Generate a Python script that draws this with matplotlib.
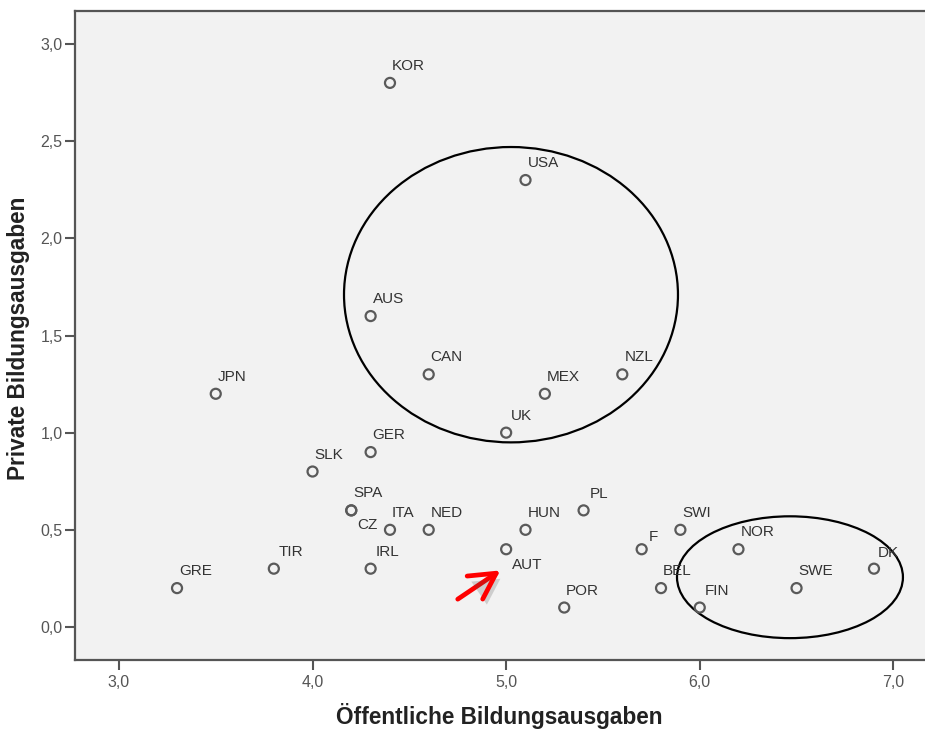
import matplotlib
matplotlib.use("Agg")
import matplotlib.pyplot as plt
from matplotlib.patches import Ellipse
import matplotlib.patheffects as pe

plt.rcParams['font.family'] = ['Liberation Sans', 'DejaVu Sans']

countries = ["KOR", "USA", "AUS", "CAN", "NZL", "MEX", "JPN", "UK", "GER", "SLK",
             "SPA", "CZ", "PL", "ITA", "NED", "HUN", "SWI", "F", "NOR", "AUT",
             "TIR", "IRL", "DK", "GRE", "BEL", "SWE", "POR", "FIN"]
public_exp = [4.4, 5.1, 4.3, 4.6, 5.6, 5.2, 3.5, 5.0, 4.3, 4.0,
              4.2, 4.2, 5.4, 4.4, 4.6, 5.1, 5.9, 5.7, 6.2, 5.0,
              3.8, 4.3, 6.9, 3.3, 5.8, 6.5, 5.3, 6.0]
private_exp = [2.8, 2.3, 1.6, 1.3, 1.3, 1.2, 1.2, 1.0, 0.9, 0.8,
               0.6, 0.6, 0.6, 0.5, 0.5, 0.5, 0.5, 0.4, 0.4, 0.4,
               0.3, 0.3, 0.3, 0.2, 0.2, 0.2, 0.1, 0.1]

x_ticks = [3.0, 4.0, 5.0, 6.0, 7.0]
y_ticks = [0.0, 0.5, 1.0, 1.5, 2.0, 2.5, 3.0]
x_label = "Öffentliche Bildungsausgaben"
y_label = "Private Bildungsausgaben"

# highlight ellipses (center x, center y, width, height) in data units
ellipses = [(5.025, 1.71, 1.725, 1.52), (6.466, 0.256, 1.167, 0.627)]
# arrow pointing at AUT: (tail, head)
arrow_tail = (4.75, 0.143)
arrow_head = (4.97, 0.291)

# label offsets in pixels (dx, dy) relative to point
default_off = (2, 17)
label_off = {"CZ": (6, -15), "AUT": (6, -16), "F": (7, 12), "PL": (6, 16),
             "IRL": (5, 17), "TIR": (5, 17), "UK": (5, 17), "DK": (4, 16),
             "FIN": (5, 17)}

W, H = 925, 729
fig = plt.figure(figsize=(W / 100, H / 100), dpi=100)
fig.patch.set_facecolor("white")
left, right, bottom, top = 75 / W, 1.02, (H - 660) / H, (H - 11) / H
ax = fig.add_axes([left, bottom, right - left, top - bottom])
ax.set_facecolor("#f2f2f2")
ax_w_px = (right - left) * W
ax_h_px = (top - bottom) * H

ax.set_xlim(2.773, 2.773 + ax_w_px / 193.6)
ax.set_ylim(-0.17, 3.17)

ax.scatter(public_exp, private_exp, s=52, facecolors="none",
           edgecolors="#5a5a5a", linewidths=1.6, zorder=3)

for name, x, y in zip(countries, public_exp, private_exp):
    dx, dy = label_off.get(name, default_off)
    ax.annotate(name, (x, y), xytext=(dx * 0.72, dy * 0.72),
                textcoords="offset points", ha="left", va="center",
                fontsize=11, color="#333333", zorder=4)

for cx, cy, w, h in ellipses:
    ax.add_patch(Ellipse((cx, cy), w, h, fill=False, edgecolor="black",
                         linewidth=1.6, zorder=2))

ax.annotate("", xy=arrow_head, xytext=arrow_tail,
            arrowprops=dict(arrowstyle="->,head_length=1.85,head_width=1.0",
                            color="#ff0000", lw=3.4, shrinkA=0, shrinkB=0,
                            capstyle="round", joinstyle="round",
                            path_effects=[pe.SimplePatchShadow(offset=(3, -4), alpha=0.22),
                                          pe.Normal()]),
            zorder=5)

ax.set_xticks(x_ticks)
ax.set_xticklabels([f"{v:.1f}".replace(".", ",") for v in x_ticks])
ax.set_yticks(y_ticks)
ax.set_yticklabels([f"{v:.1f}".replace(".", ",") for v in y_ticks])
ax.tick_params(axis="both", direction="out", length=7, width=1.5,
               color="#555555", labelcolor="#555555", labelsize=11.5)
ax.tick_params(axis="x", pad=4)
ax.tick_params(axis="y", pad=2)

for s in ["left", "bottom", "top"]:
    ax.spines[s].set_color("#555555")
    ax.spines[s].set_linewidth(1.6)
ax.spines["right"].set_visible(False)

ax.set_xlabel(x_label, fontsize=16.3, fontweight="bold", color="#222222")
ax.set_ylabel(y_label, fontsize=16.3, fontweight="bold", color="#222222")
ax.xaxis.label.set_va("center")
ax.yaxis.label.set_va("center")
ax.xaxis.set_label_coords((499.5 - 75) / ax_w_px, (660 - 716) / ax_h_px)
ax.yaxis.set_label_coords((19 - 75) / ax_w_px, (660 - 338) / ax_h_px)

fig.savefig("out.png", dpi=100)
